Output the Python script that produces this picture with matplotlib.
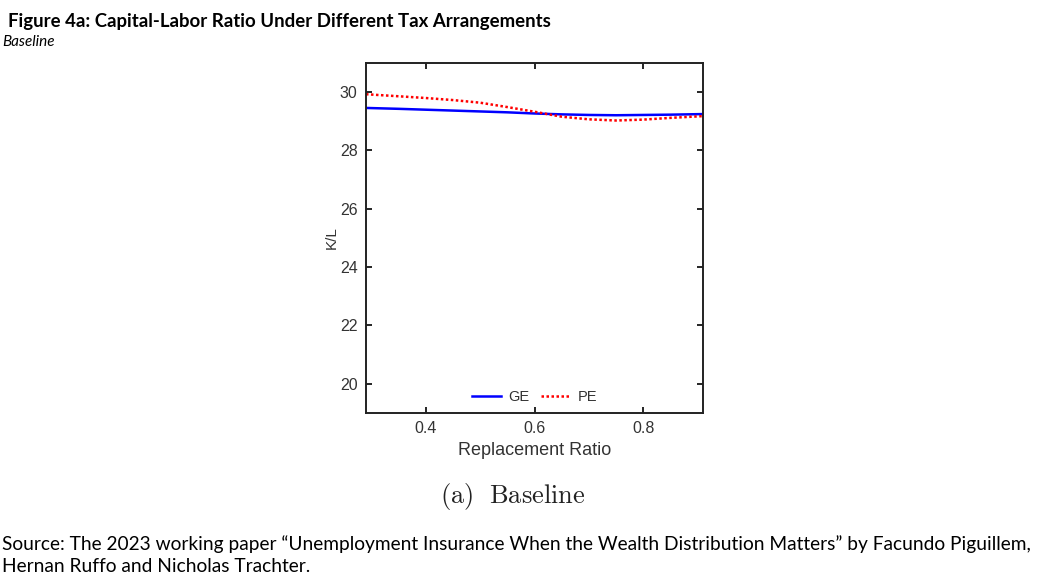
import numpy as np
import matplotlib
matplotlib.use('Agg')
import matplotlib.pyplot as plt

# values
replacement = [0.29, 0.35, 0.40, 0.45, 0.50, 0.55, 0.60, 0.65, 0.70, 0.75, 0.80, 0.85, 0.91]
kl_ge = [29.45, 29.42, 29.39, 29.36, 29.33, 29.30, 29.26, 29.23, 29.21, 29.20, 29.21, 29.22, 29.24]
kl_pe = [29.92, 29.85, 29.79, 29.72, 29.63, 29.48, 29.32, 29.15, 29.06, 29.02, 29.05, 29.11, 29.17]
x_ticks = [0.4, 0.6, 0.8]
y_ticks = [20, 22, 24, 26, 28, 30]

title = 'Figure 4a: Capital-Labor Ratio Under Different Tax Arrangements'
subtitle = 'Baseline'
source = ('Source: The 2023 working paper \u201cUnemployment Insurance When the Wealth Distribution '
          'Matters\u201d by Facundo Piguillem,\nHernan Ruffo and Nicholas Trachter.')

W, H = 1044, 583
fig = plt.figure(figsize=(W / 100, H / 100), dpi=100)
fig.patch.set_facecolor('white')

ax = fig.add_axes([366 / W, 1 - 413 / H, (703 - 366) / W, (413 - 62.7) / H])
ax.plot(replacement, kl_ge, color='#0000ff', lw=1.8, ls='-', label='GE')
ax.plot(replacement, kl_pe, color='#ff0000', lw=1.8, ls=(0, (1, 1.0)), label='PE')

ax.set_xlim(0.29, 0.91)
ax.set_ylim(19, 31)
ax.set_xticks(x_ticks)
ax.set_yticks(y_ticks)
ax.set_xticklabels([f'{t:.1f}' for t in x_ticks])
ax.tick_params(direction='in', length=4, width=1.2, top=True, right=True,
               labelsize=11.5, labelcolor='#333333', pad=6)
for lab in ax.get_xticklabels() + ax.get_yticklabels():
    lab.set_family('Liberation Sans')
for s in ax.spines.values():
    s.set_linewidth(1.4)
    s.set_color('#222222')

ax.set_xlabel('Replacement Ratio', fontsize=13, family='Liberation Sans', color='#333333', labelpad=4)
ax.set_ylabel('K/L', fontsize=11, family='Liberation Sans', color='#333333', labelpad=1)

leg = ax.legend(loc='lower center', ncol=2, frameon=False,
                prop={'family': 'Liberation Sans', 'size': 10.5},
                handlelength=2.0, columnspacing=0.8, handletextpad=0.5,
                borderaxespad=0.2)
for t in leg.get_texts():
    t.set_color('#333333')

plt.rcParams['mathtext.fontset'] = 'cm'
fig.text(513 / W, 1 - 497 / H, r'$\mathrm{(a)\ \ Baseline}$', fontsize=19,
         ha='center', va='center', color='#222222')

fig.text(8 / W, 1 - 21 / H, title, fontsize=13.4, fontweight='bold', family='Lato',
         ha='left', va='center', color='black')
fig.text(2 / W, 1 - 42 / H, subtitle, fontsize=11, style='italic', family='Lato',
         ha='left', va='center', color='black')
fig.text(2 / W, 1 - 555 / H, source, fontsize=13.8, family='Lato',
         ha='left', va='center', color='black', linespacing=1.35)

fig.savefig('out.png', dpi=100, facecolor='white')
